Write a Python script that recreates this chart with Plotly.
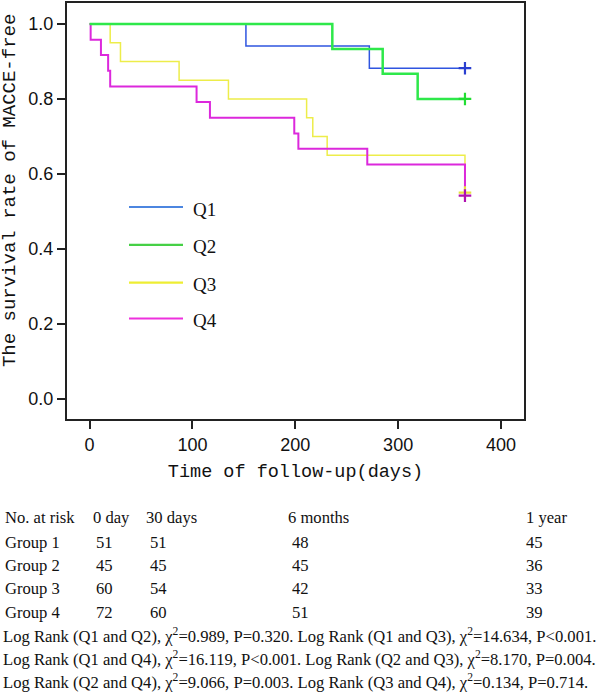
import plotly.graph_objects as go

# ---- data ----
groups = ["Q1", "Q2", "Q3", "Q4"]
q1_days = [0, 152, 272, 365]
q1_surv = [1.0, 0.941, 0.882, 0.882]
q2_days = [0, 236, 285, 319, 365]
q2_surv = [1.0, 0.933, 0.867, 0.800, 0.800]
q3_days = [0, 20, 30, 87, 135, 211, 217, 231, 365]
q3_surv = [1.0, 0.95, 0.90, 0.85, 0.80, 0.75, 0.70, 0.65, 0.55]
q4_days = [0, 1, 11, 18, 20, 104, 117, 199, 203, 270, 365]
q4_surv = [1.0, 0.958, 0.917, 0.875, 0.833, 0.792, 0.750, 0.708, 0.667, 0.625, 0.542]

x_ticks = [0, 100, 200, 300, 400]
y_ticks = [0.0, 0.2, 0.4, 0.6, 0.8, 1.0]

risk_header = ["No. at risk", "0 day", "30 days", "6 months", "1 year"]
risk_groups = ["Group 1", "Group 2", "Group 3", "Group 4"]
risk_day0 = [51, 45, 60, 72]
risk_day30 = [51, 45, 54, 60]
risk_month6 = [48, 45, 42, 51]
risk_year1 = [45, 36, 33, 39]

logrank_lines = [
    "Log Rank (Q1 and Q2), χ<sup>2</sup>=0.989, P=0.320. Log Rank (Q1 and Q3), χ<sup>2</sup>=14.634, P<0.001.",
    "Log Rank (Q1 and Q4), χ<sup>2</sup>=16.119, P<0.001. Log Rank (Q2 and Q3), χ<sup>2</sup>=8.170, P=0.004.",
    "Log Rank (Q2 and Q4), χ<sup>2</sup>=9.066, P=0.003. Log Rank (Q3 and Q4), χ<sup>2</sup>=0.134, P=0.714.",
]

# ---- styles ----
line_colors = {"Q1": "#2f55e0", "Q2": "#2ee84a", "Q3": "#eded4a", "Q4": "#dc28dc"}
line_widths = {"Q1": 1.5, "Q2": 2.5, "Q3": 1.5, "Q4": 2.0}
legend_colors = {"Q1": "#4c86e0", "Q2": "#46d046", "Q3": "#eeee33", "Q4": "#ee30dd"}
mark_colors = {"Q1": "#2a3fd0", "Q2": "#22dd33", "Q3": "#e8e040", "Q4": "#b010b0"}

W, H = 598, 692
ML, MR, MT, MB = 67, 74, 1, 273
plot_h = H - MT - MB


def py(p):  # pixel y -> paper y
    return (H - MB - p) / plot_h


def px(p):  # pixel x -> paper x
    return (p - ML) / (W - ML - MR)


series = {
    "Q1": (q1_days, q1_surv),
    "Q2": (q2_days, q2_surv),
    "Q3": (q3_days, q3_surv),
    "Q4": (q4_days, q4_surv),
}

fig = go.Figure()
for g in ["Q1", "Q3", "Q4", "Q2"]:
    d, s = series[g]
    fig.add_trace(go.Scatter(x=d, y=s, mode="lines", line_shape="hv",
                             line=dict(color=line_colors[g], width=line_widths[g]),
                             showlegend=False, hoverinfo="skip"))
for g in ["Q1", "Q2", "Q3", "Q4"]:
    d, s = series[g]
    fig.add_trace(go.Scatter(x=[d[-1]], y=[s[-1]], mode="markers",
                             marker=dict(symbol="cross-thin", size=9,
                                         line=dict(color=mark_colors[g], width=2.2)),
                             showlegend=False, hoverinfo="skip"))

axis_font = dict(family="Liberation Sans Narrow, Liberation Sans, sans-serif", size=18, color="#111")
title_font = dict(family="Liberation Mono, DejaVu Sans Mono, monospace", size=18.5, color="#111")

fig.update_xaxes(range=[-22, 422.4], tickvals=x_ticks, ticks="outside", ticklen=8, tickwidth=2,
                 tickcolor="#222", showline=True, linecolor="#222", linewidth=2, mirror=True,
                 showgrid=False, zeroline=False, tickfont=axis_font,
                 title=dict(text="Time of follow-up(days)", font=title_font, standoff=10))
fig.update_yaxes(range=[-0.054, 1.056], tickvals=y_ticks, tickformat=".1f", ticks="outside",
                 ticklen=8, tickwidth=2, tickcolor="#222", showline=True, linecolor="#222",
                 linewidth=2, mirror=True, showgrid=False, zeroline=False, tickfont=axis_font)

annotations = []
shapes = []

# y-axis title (placed manually to match position)
annotations.append(dict(text="The survival rate of MACCE-free", textangle=-90, x=px(10), y=py(190),
                        xref="paper", yref="paper", showarrow=False,
                        font=dict(family=title_font["family"], size=19, color="#111"),
                        xanchor="center", yanchor="middle"))

# custom legend
legend_y = [206, 244, 282, 318]
for g, yy in zip(groups, legend_y):
    shapes.append(dict(type="line", xref="paper", yref="paper", x0=px(129), x1=px(183),
                       y0=py(yy), y1=py(yy), line=dict(color=legend_colors[g], width=2.2)))
    annotations.append(dict(text=g, x=px(191), y=py(yy + 2), xref="paper", yref="paper",
                            showarrow=False, xanchor="left", yanchor="middle",
                            font=dict(family="Liberation Serif, serif", size=19, color="#111")))

# number-at-risk table
tfont = dict(family="Liberation Serif, serif", size=16.6, color="#111")
col_x = [3, 91, 144, 286, 524]
num_x = [94, 148, 290, 524]
row_y = [518, 543, 566, 589, 613]
for txt, xx in zip(risk_header, col_x):
    annotations.append(dict(text=txt, x=px(xx), y=py(row_y[0]), xref="paper", yref="paper",
                            showarrow=False, xanchor="left", yanchor="middle", font=tfont))
for i, gname in enumerate(risk_groups):
    yy = py(row_y[i + 1])
    annotations.append(dict(text=gname, x=px(3), y=yy, xref="paper", yref="paper",
                            showarrow=False, xanchor="left", yanchor="middle", font=tfont))
    for vals, xx in zip([risk_day0, risk_day30, risk_month6, risk_year1], num_x):
        annotations.append(dict(text=str(vals[i]), x=px(xx), y=yy, xref="paper", yref="paper",
                                showarrow=False, xanchor="left", yanchor="middle", font=tfont))
for line, yy in zip(logrank_lines, [637, 660, 683]):
    annotations.append(dict(text=line, x=px(1), y=py(yy), xref="paper", yref="paper",
                            showarrow=False, xanchor="left", yanchor="middle", font=tfont))

fig.update_layout(width=W, height=H, margin=dict(l=ML, r=MR, t=MT, b=MB),
                  paper_bgcolor="white", plot_bgcolor="white",
                  annotations=annotations, shapes=shapes, showlegend=False)

fig.write_html("out.html", config={"displayModeBar": False},
               post_script="document.body.style.margin='0';document.body.style.overflow='hidden';")
